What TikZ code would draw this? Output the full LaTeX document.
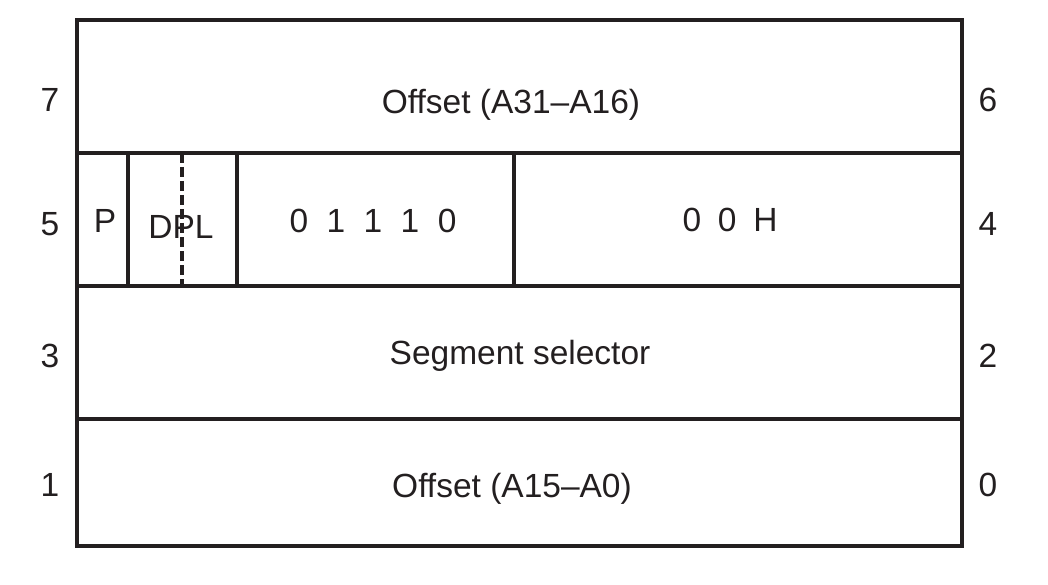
\documentclass[tikz,border=0pt]{standalone}
\usepackage{fontspec}
\setmainfont{Liberation Sans}
\definecolor{ink}{HTML}{231F20}
\begin{document}
\begin{tikzpicture}[x=1pt,y=-1pt,
  frame/.style={draw=ink,line width=4pt},
  inner/.style={draw=ink,line width=3.3pt},
  dashsep/.style={draw=ink,line width=3.3pt,dash pattern=on 10pt off 4pt},
  lbl/.style={anchor=base,inner sep=0pt,text=ink,font=\fontsize{33.5}{38}\selectfont}]
\useasboundingbox (0,0) rectangle (1048,585);
\coordinate (tl) at (77,20);
\coordinate (br) at (962,546);
\draw[inner] (77,153) -- (962,153);
\draw[inner] (77,286) -- (962,286);
\draw[inner] (77,419) -- (962,419);
\draw[inner] (128,153) -- (128,286);
\draw[inner] (237,153) -- (237,286);
\draw[inner] (514,153) -- (514,286);
\draw[dashsep] (182,153) -- (182,286);
\draw[frame] (tl) rectangle (br);
\node[lbl] (off1) at (511,114) {Offset (A31--A16)};
\node[lbl] (p) at (105,233) {P};
\node[lbl] (dpl) at (181,238) {DPL};
\node[lbl] (type) at (373,233) {0\hspace{0.55em}1\hspace{0.55em}1\hspace{0.55em}1\hspace{0.55em}0};
\node[lbl] (zh) at (730,231) {0\hspace{0.5em}0\hspace{0.5em}H};
\node[lbl] (sel) at (520,364) {Segment selector};
\node[lbl] (off0) at (512,497) {Offset (A15--A0)};
\node[lbl] (n7) at (50,112) {7};
\node[lbl] (n5) at (50,235) {5};
\node[lbl] (n3) at (50,367) {3};
\node[lbl] (n1) at (50,496) {1};
\node[lbl] (n6) at (988,112) {6};
\node[lbl] (n4) at (988,235) {4};
\node[lbl] (n2) at (988,367) {2};
\node[lbl] (n0) at (988,496) {0};
\end{tikzpicture}
\end{document}
